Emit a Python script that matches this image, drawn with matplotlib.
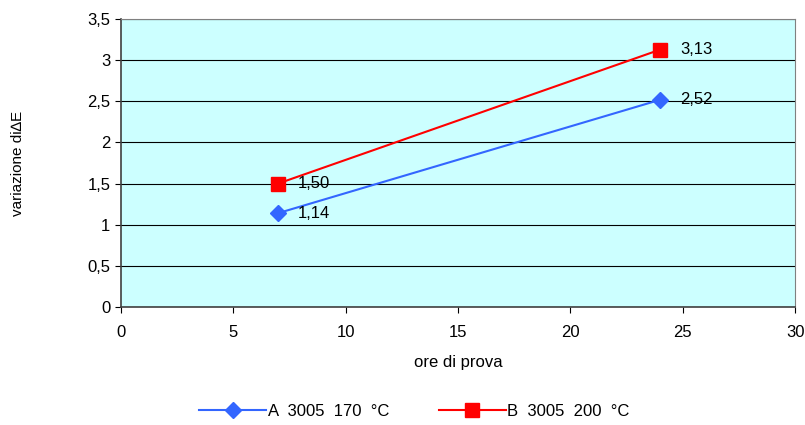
import matplotlib.pyplot as plt
from matplotlib.ticker import FuncFormatter

plt.rcParams['font.family'] = ['Liberation Sans', 'DejaVu Sans']

# Test data
hours = [7, 24]
serie_a = [1.14, 2.52]
serie_b = [1.50, 3.13]
label_a = 'A  3005  170  °C'
label_b = 'B  3005  200  °C'

fig = plt.figure(figsize=(8.05, 4.25), dpi=100)
ax = fig.add_axes([0.150, 0.278, 0.838, 0.677])
ax.set_facecolor('#CCFFFF')

ax.plot(hours, serie_a, color='#3366FF', marker='D', markersize=8, lw=1.5, label=label_a)
ax.plot(hours, serie_b, color='#FF0000', marker='s', markersize=10, lw=1.5, label=label_b)

# value labels, comma decimals
for ys in (serie_a, serie_b):
    for x, y in zip(hours, ys):
        ax.annotate(f"{y:.2f}".replace('.', ','), (x, y), xytext=(14, 0),
                    textcoords='offset points', va='center', fontsize=12)

ax.set_xlim(0, 30)
ax.set_ylim(0, 3.5)
ax.set_xticks(range(0, 31, 5))
ax.set_yticks([0, 0.5, 1, 1.5, 2, 2.5, 3, 3.5])
ax.yaxis.set_major_formatter(FuncFormatter(lambda v, p: f"{v:g}".replace('.', ',')))
ax.tick_params(direction='out', length=4, labelsize=12, colors='black')
ax.tick_params(axis='x', pad=9)
ax.grid(axis='y', color='black', lw=0.8)
ax.set_axisbelow(True)
for s in ['top', 'right']:
    ax.spines[s].set_color('#808080')
for s in ['left', 'bottom']:
    ax.spines[s].set_color('#404040')
    ax.spines[s].set_linewidth(1.2)

ax.set_xlabel('ore di prova', fontsize=12, labelpad=11)
fig.text(18 / 805, 1 - 163 / 425, 'variazione di\u2206E', rotation=90,
         ha='center', va='center', fontsize=11)

fig.legend(loc='lower center', bbox_to_anchor=(0.515, -0.02), ncol=2, frameon=False,
           fontsize=12, handlelength=4, columnspacing=3, handletextpad=0.1)

fig.savefig('out.png', dpi=100)
